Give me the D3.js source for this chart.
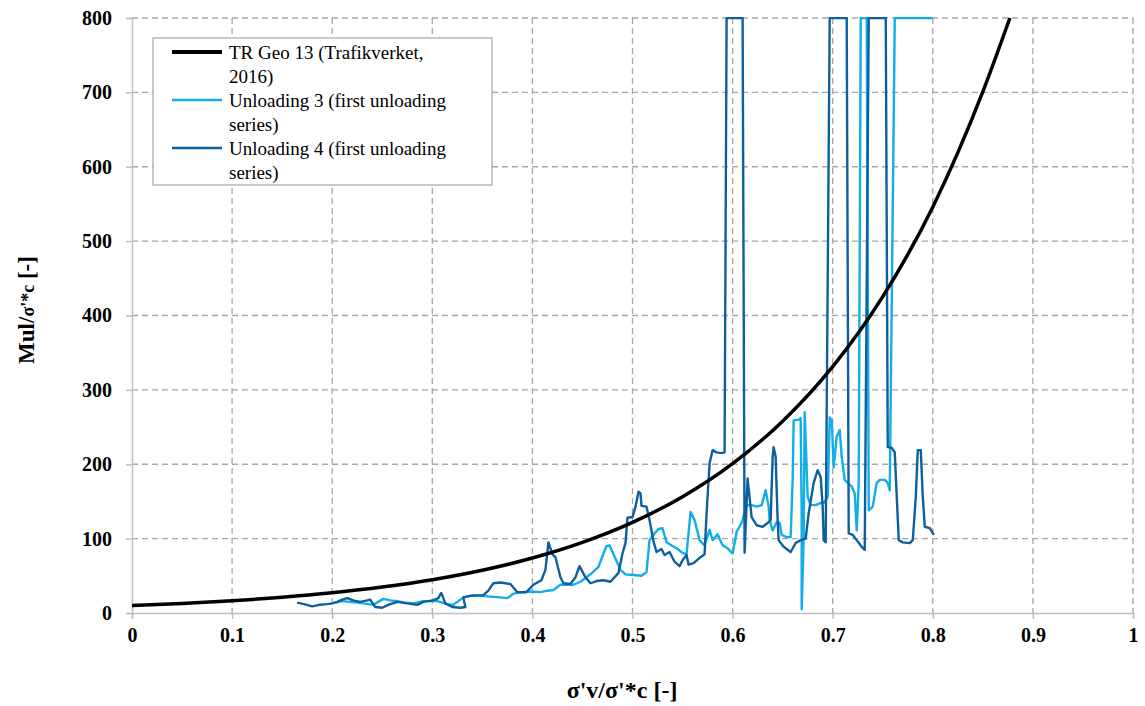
<!DOCTYPE html>
<html><head><meta charset="utf-8">
<script src="https://cdn.jsdelivr.net/npm/d3@7"></script>
<style>body{margin:0;background:#fff}svg{display:block}</style>
</head><body><svg id="c" width="1145" height="706"></svg>
<script>
// ---- data ----
const xTicks = [0,0.1,0.2,0.3,0.4,0.5,0.6,0.7,0.8,0.9,1];
const xTickLabels = ["0","0.1","0.2","0.3","0.4","0.5","0.6","0.7","0.8","0.9","1"];
const yTicks = [0,100,200,300,400,500,600,700,800];
const seriesNames = ["TR Geo 13 (Trafikverket,|2016)","Unloading 3 (first unloading|series)","Unloading 4 (first unloading|series)"];

const trX = [0,0.05,0.1,0.15,0.2,0.25,0.3,0.35,0.4,0.45,0.5,0.55,0.6,0.65,0.7,0.75,0.8,0.825,0.85,0.877];
const trY = [10,12.8,16.5,21.2,27.2,34.9,44.8,57.5,73.9,94.9,121.8,156.4,200.9,257.9,331.2,425.3,546,619,701,800];

const u3X = [0.203,0.21,0.218,0.225,0.231,0.241,0.246,0.251,0.258,0.265,0.273,0.281,0.291,0.305,0.315,0.321,0.325,0.331,0.341,0.35,0.358,0.368,0.375,0.381,0.39,0.398,0.408,0.415,0.421,0.428,0.441,0.448,0.458,0.466,0.471,0.474,0.477,0.482,0.488,0.493,0.501,0.509,0.514,0.517,0.522,0.526,0.53,0.534,0.54,0.544,0.55,0.554,0.558,0.562,0.567,0.572,0.577,0.58,0.585,0.59,0.595,0.6,0.604,0.609,0.614,0.619,0.624,0.629,0.633,0.636,0.637,0.64,0.644,0.647,0.649,0.654,0.658,0.66,0.661,0.666,0.668,0.669,0.669,0.671,0.672,0.675,0.678,0.683,0.688,0.691,0.695,0.697,0.699,0.701,0.704,0.707,0.709,0.712,0.715,0.719,0.722,0.724,0.726,0.728,0.734,0.736,0.74,0.744,0.747,0.752,0.755,0.757,0.762,0.8];
const u3Y = [14,16,15,14,13,11,15,19,17,16,14,13,16,16,12,11,15,21,24,23,22,21,20,26,28,29,28,30,31,38,38,42,52,62,80,90,91,76,58,52,51,50,55,98,107,113,114,95,90,87,81,79,136,125,98,91,112,98,106,91,87,80,109,121,145,145,143,145,165,143,125,111,122,121,105,102,102,179,259,260,262,134,5,100,270,156,145,145,148,148,156,263,259,196,237,246,210,179,175,170,161,111,175,800,800,138,143,175,179,179,175,165,800,800];

const u4X = [0.165,0.172,0.18,0.187,0.195,0.2,0.205,0.21,0.215,0.221,0.228,0.235,0.238,0.243,0.25,0.256,0.265,0.275,0.285,0.291,0.301,0.306,0.309,0.313,0.32,0.328,0.333,0.331,0.338,0.351,0.356,0.361,0.368,0.378,0.385,0.394,0.401,0.409,0.413,0.416,0.42,0.423,0.428,0.431,0.438,0.443,0.447,0.453,0.458,0.464,0.471,0.478,0.486,0.49,0.493,0.495,0.5,0.503,0.506,0.508,0.509,0.514,0.517,0.521,0.524,0.529,0.532,0.537,0.542,0.547,0.55,0.554,0.556,0.561,0.567,0.572,0.574,0.577,0.58,0.584,0.589,0.592,0.594,0.61,0.612,0.615,0.619,0.624,0.63,0.635,0.638,0.64,0.641,0.643,0.645,0.646,0.651,0.658,0.663,0.668,0.673,0.676,0.681,0.685,0.688,0.69,0.691,0.693,0.697,0.714,0.716,0.72,0.724,0.729,0.732,0.736,0.753,0.755,0.759,0.762,0.764,0.766,0.77,0.777,0.78,0.783,0.785,0.788,0.79,0.792,0.797,0.801];
const u4Y = [14,12,9,11,12,13,15,18,20,17,15,17,18,8,7,11,15,13,11,15,17,20,27,13,8,7,8,21,23,24,30,40,41,39,28,28,38,44,58,95,79,75,48,40,39,48,63,48,40,43,44,42,54,80,94,128,129,143,163,161,144,143,125,96,82,86,78,82,69,63,71,78,65,67,74,79,134,201,219,216,215,216,800,800,81,181,129,118,116,121,125,210,223,210,125,98,89,82,94,98,100,134,175,192,183,143,98,95,800,800,107,105,98,89,85,800,800,223,222,216,156,98,95,94,98,156,219,219,156,116,114,105];

// ---- layout ----
const svg = d3.select("#c");
const L = 132, R = 1133, T = 18, B = 613;
const x = d3.scaleLinear().domain([0,1]).range([L,R]);
const y = d3.scaleLinear().domain([0,800]).range([B,T]);
const gridCol = "#a6a6a6", axisCol = "#bfbfbf";
const font = "\"Liberation Serif\", \"Times New Roman\", serif";

// gridlines
const g = svg.append("g");
g.selectAll(".gx").data(xTicks.slice(1)).enter().append("line")
  .attr("x1",d=>x(d)).attr("x2",d=>x(d)).attr("y1",T).attr("y2",B)
  .attr("stroke",gridCol).attr("stroke-width",1.3).attr("stroke-dasharray","6,4");
g.selectAll(".gy").data(yTicks.slice(1)).enter().append("line")
  .attr("x1",L).attr("x2",R).attr("y1",d=>y(d)).attr("y2",d=>y(d))
  .attr("stroke",gridCol).attr("stroke-width",1.3).attr("stroke-dasharray","6,4");

// axes
const xAxis = svg.append("g").attr("transform",`translate(0,${B})`)
  .call(d3.axisBottom(x).tickValues(xTicks).tickFormat((d,i)=>xTickLabels[i]).tickSize(6).tickPadding(9));
const yAxis = svg.append("g").attr("transform",`translate(${L},0)`)
  .call(d3.axisLeft(y).tickValues(yTicks).tickSize(6).tickPadding(14));
[xAxis,yAxis].forEach(a=>{
  a.select(".domain").attr("stroke",axisCol).attr("stroke-width",1.5);
  a.selectAll(".tick line").attr("stroke",axisCol).attr("stroke-width",1.5);
  a.selectAll("text").attr("font-family",font).attr("font-weight","bold").attr("font-size",20).attr("fill","#000");
});

// clip
svg.append("clipPath").attr("id","clip").append("rect").attr("x",L).attr("y",T-1).attr("width",R-L).attr("height",B-T+1);

const line = d3.line().x(d=>x(d[0])).y(d=>y(d[1]));
const plot = svg.append("g").attr("clip-path","url(#clip)");
const u3 = u3X.map((v,i)=>[v,u3Y[i]]);
const u4 = u4X.map((v,i)=>[v,u4Y[i]]);
const tr = trX.map((v,i)=>[v,trY[i]]);
const colors = ["#000000","#12aee8","#0d5f9e"];
plot.append("path").datum(u3).attr("d",line).attr("fill","none").attr("stroke",colors[1]).attr("stroke-width",2.4).attr("stroke-linejoin","round");
plot.append("path").datum(u4).attr("d",line).attr("fill","none").attr("stroke",colors[2]).attr("stroke-width",2.4).attr("stroke-linejoin","round");
plot.append("path").datum(tr).attr("d",d3.line().x(d=>x(d[0])).y(d=>y(d[1])).curve(d3.curveMonotoneX))
  .attr("fill","none").attr("stroke",colors[0]).attr("stroke-width",3.5);

// axis titles
svg.append("text").attr("x",622).attr("y",698).attr("text-anchor","middle")
  .attr("font-family",font).attr("font-weight","bold").attr("font-size",24).text("σ'v/σ'*c [-]");
const yt = svg.append("text").attr("transform","translate(34,310) rotate(-90)").attr("text-anchor","middle")
  .attr("font-family",font).attr("font-weight","bold").attr("font-size",23);
yt.append("tspan").text("Mul/");
yt.append("tspan").attr("font-size",18).text("σ'*c");
yt.append("tspan").text(" [-]");

// legend
const lg = svg.append("g");
lg.append("rect").attr("x",153).attr("y",38).attr("width",339).attr("height",147)
  .attr("fill","#fff").attr("stroke","#a6a6a6").attr("stroke-width",1.2);
const swY = [52,100,148], swW = [4,2.5,2.5];
seriesNames.forEach((n,i)=>{
  lg.append("line").attr("x1",172).attr("x2",222).attr("y1",swY[i]).attr("y2",swY[i])
    .attr("stroke",colors[i]).attr("stroke-width",swW[i]);
  n.split("|").forEach((t,j)=>{
    lg.append("text").attr("x",229).attr("y",swY[i]+7+j*24).attr("font-family",font)
      .attr("font-size",19).attr("fill","#000").text(t);
  });
});
</script></body></html>
